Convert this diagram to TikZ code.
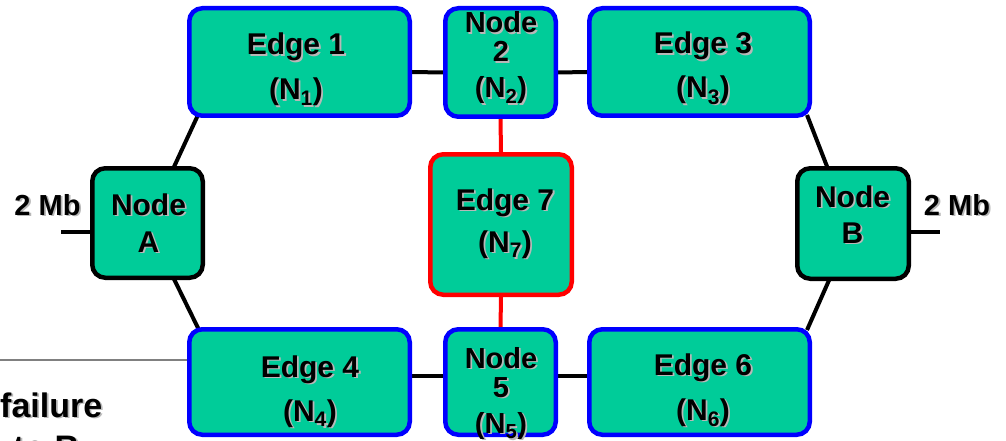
\documentclass[tikz,border=0pt]{standalone}
\usepackage{fontspec}
\setmainfont{Liberation Sans}
\usetikzlibrary{backgrounds}

\definecolor{boxfill}{HTML}{00CC99}
\definecolor{edgeblue}{HTML}{0000FF}
\definecolor{cutred}{HTML}{FF0000}
\definecolor{rulegray}{HTML}{808080}

% bold label with a soft grey drop shadow
\newcommand\shd[1]{\leavevmode\rlap{\kern1.8pt\raisebox{-1.8pt}{\textcolor{black!28}{#1}}}#1}
\newcommand\nsub[1]{\textsubscript{#1}}

\tikzset{
  box/.style={line width=4.5pt, fill=boxfill, rounded corners=13pt, inner sep=0pt},
  bluebox/.style={box, draw=edgeblue},
  blackbox/.style={box, draw=black},
  redbox/.style={box, draw=cutred},
  % multi-line labels are placed by the baseline of their last line
  lbl/.style={inner sep=0pt, align=center, anchor=base},
  link/.style={line width=4pt, draw=black},
  cutlink/.style={line width=4pt, draw=cutred},
  rule/.style={line width=1.5pt, draw=rulegray},
}

\begin{document}
\begin{tikzpicture}[x=1pt, y=-1pt]
\useasboundingbox (0,0) rectangle (1006,441);
\clip (0,0) rectangle (1006,441);

% boxes
\node[bluebox, minimum width=220.5pt, minimum height=107.5pt] (e1) at (299.5,62) {};
\node[bluebox, minimum width=110.5pt, minimum height=108.5pt] (n2) at (500.5,62.5) {};
\node[bluebox, minimum width=220.5pt, minimum height=107.5pt] (e3) at (699.5,62) {};
\node[blackbox, minimum width=110.5pt, minimum height=109.5pt] (nA) at (147.5,223) {};
\node[blackbox, minimum width=111.5pt, minimum height=110.5pt] (nB) at (853,223.5) {};
\node[redbox, minimum width=141.5pt, minimum height=140.5pt] (e7) at (501,224.5) {};
\node[bluebox, minimum width=220.5pt, minimum height=105.5pt] (e4) at (299.5,382) {};
\node[bluebox, minimum width=110.5pt, minimum height=105.5pt] (n5) at (500.5,382) {};
\node[bluebox, minimum width=220.5pt, minimum height=105.5pt] (e6) at (699.5,382) {};

% free ends of the access links and the divider
\coordinate (inA) at (61,232);
\coordinate (inB) at (940,232);
\coordinate (ruleL) at (0,360);

% connectors
\begin{scope}[on background layer]
  \draw[link] ([yshift=-10pt]e1.east) -- ([yshift=-10pt]n2.west);
  \draw[link] ([yshift=-10pt]n2.east) -- ([yshift=-10pt]e3.west);
  \draw[link] ([yshift=6pt]e4.east) -- ([yshift=6pt]n5.west);
  \draw[link] ([yshift=6pt]n5.east) -- ([yshift=6pt]e6.west);
  \draw[link] ([xshift=25.5pt,yshift=-3pt]nA.north) -- ([xshift=-101.5pt,yshift=3pt]e1.south);
  \draw[link] ([xshift=107.5pt,yshift=3pt]e3.south) -- ([xshift=-25pt,yshift=-3pt]nB.north);
  \draw[link] ([xshift=25.5pt,yshift=3pt]nA.south) -- ([xshift=-100.5pt,yshift=-3pt]e4.north);
  \draw[link] ([xshift=-23pt,yshift=3pt]nB.south) -- ([xshift=107.5pt,yshift=-3pt]e6.north);
  \draw[link] ([yshift=-9pt]nA.west) -- (inA);
  \draw[link] ([yshift=-8.5pt]nB.east) -- (inB);
  \draw[cutlink] (n2.south) -- (e7.north);
  \draw[cutlink] (e7.south) -- (n5.north);
  \draw[rule] (ruleL) -- ([yshift=22pt]e4.west);
\end{scope}

% labels
\node[lbl, font=\bfseries\fontsize{30}{45}\selectfont] (t1) at (296,100) {\shd{Edge 1}\\\shd{(N\nsub{1})}};
\node[lbl, font=\bfseries\fontsize{30}{44}\selectfont] (t3) at (703,98) {\shd{Edge 3}\\\shd{(N\nsub{3})}};
\node[lbl, font=\bfseries\fontsize{30}{44}\selectfont] (t4) at (310,421) {\shd{Edge 4}\\\shd{(N\nsub{4})}};
\node[lbl, font=\bfseries\fontsize{30}{45}\selectfont] (t6) at (703,420) {\shd{Edge 6}\\\shd{(N\nsub{6})}};
\node[lbl, font=\bfseries\fontsize{30}{42}\selectfont] (t7) at (505,252) {\shd{Edge 7}\\\shd{(N\nsub{7})}};
\node[lbl, font=\bfseries\fontsize{29}{29}\selectfont] (t2) at (501,98) {\shd{Node}\\\shd{2}\\[7pt]\shd{(N\nsub{2})}};
\node[lbl, font=\bfseries\fontsize{29}{29}\selectfont] (t5) at (501,433) {\shd{Node}\\\shd{5}\\[7pt]\shd{(N\nsub{5})}};
\node[lbl, font=\bfseries\fontsize{30}{37}\selectfont] (tA) at (148.5,252) {\shd{Node}\\\shd{A}};
\node[lbl, font=\bfseries\fontsize{30}{36}\selectfont] (tB) at (852.5,243) {\shd{Node}\\\shd{B}};
\node[lbl, font=\bfseries\fontsize{29}{35}\selectfont] (rateA) at (47.5,215) {\shd{2 Mb}};
\node[lbl, font=\bfseries\fontsize{29}{35}\selectfont] (rateB) at (957,215) {\shd{2 Mb}};
\node[inner sep=0pt, align=left, anchor=base west, font=\bfseries\fontsize{34}{42}\selectfont] (note) at (0,459)
  {\shd{failure}\\\hspace*{13pt}\shd{to B}};
\end{tikzpicture}
\end{document}
